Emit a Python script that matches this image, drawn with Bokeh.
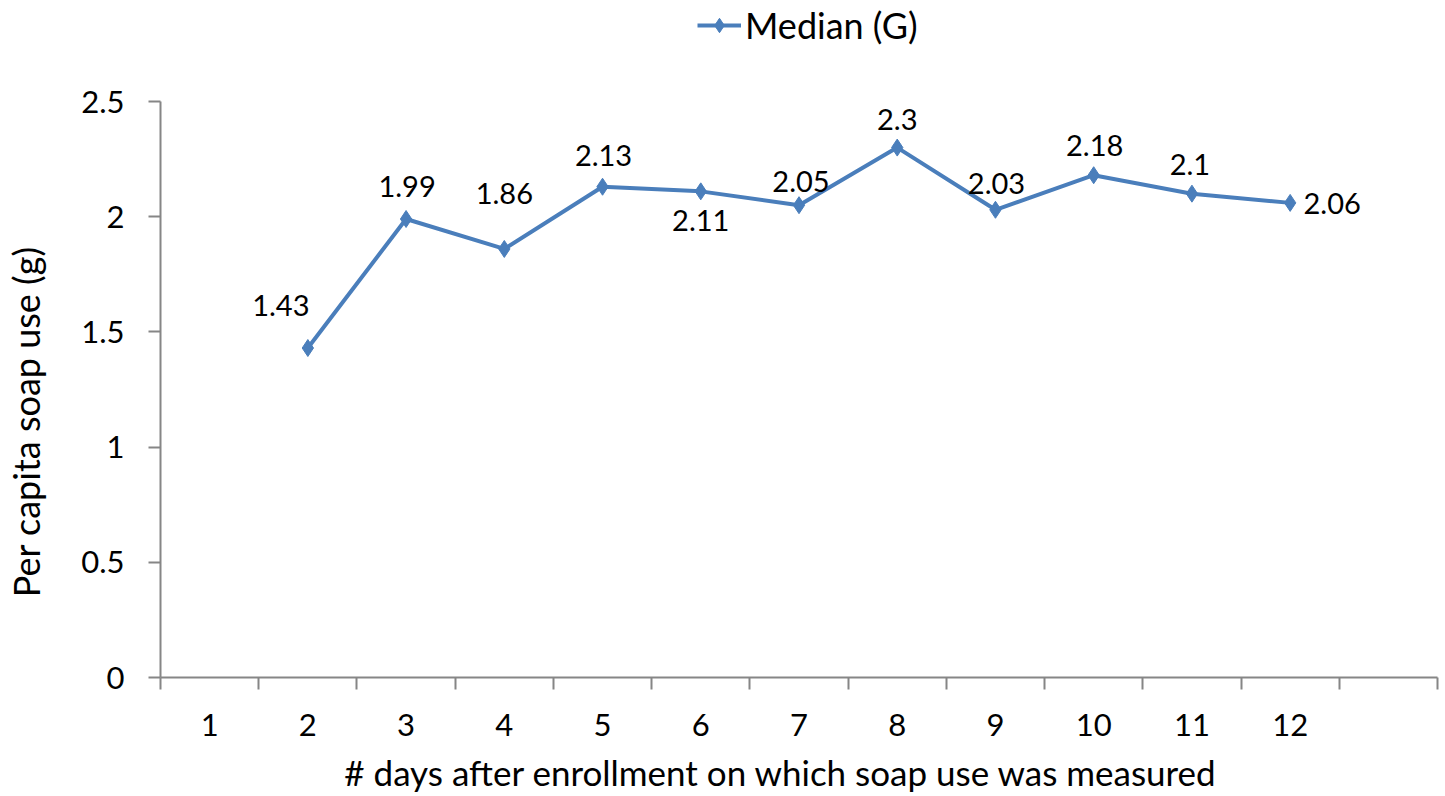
from bokeh.plotting import figure
from bokeh.layouts import column
from bokeh.models import ColumnDataSource, FixedTicker, Legend, LegendItem, Range1d
from bokeh.core.properties import value
from bokeh.embed import file_html
from bokeh.resources import INLINE

# ---- data ----
days = [2, 3, 4, 5, 6, 7, 8, 9, 10, 11, 12]
median_g = [1.43, 1.99, 1.86, 2.13, 2.11, 2.05, 2.30, 2.03, 2.18, 2.10, 2.06]
day_ticks = [1, 2, 3, 4, 5, 6, 7, 8, 9, 10, 11, 12]
day_tick_labels = [str(d) for d in day_ticks]
y_ticks = [0, 0.5, 1, 1.5, 2, 2.5]
y_tick_labels = ["0", "0.5", "1", "1.5", "2", "2.5"]
value_labels = ["1.43", "1.99", "1.86", "2.13", "2.11", "2.05", "2.3", "2.03", "2.18", "2.1", "2.06"]
series_name = "Median (G)"
x_title = "# days after enrollment on which soap use was measured"
y_title = "Per capita soap use (g)"

# label placement (pixel offsets, style only)
label_dx = [-27, 1, 0, 1, 0, 2, 0, 1, 1, -2, 42]
label_dy = [-43, -33, -55, -31, 29, -24, -28, -26, -30, -29, 1]

FONT = "Lato"
BLUE = "#4A7EBB"
AXIS = "#868686"
NBSP = "\u00a0"

src = ColumnDataSource(dict(x=days, y=median_g, lab=value_labels, dx=label_dx, dy=label_dy))

# ---------- legend strip on top ----------
# (its glyphs share the chart's data but lie outside this strip's ranges, so only the legend shows)
lf = figure(width=1440, height=85, output_backend="svg", toolbar_location=None,
            x_range=Range1d(0, 1), y_range=Range1d(0, 1), x_axis_type=None, y_axis_type=None,
            min_border_left=0, min_border_right=0, min_border_top=0, min_border_bottom=0)
lf.outline_line_color = None
lf.xgrid.visible = False
lf.ygrid.visible = False
lg_line = lf.line("x", "y", source=src, line_color=BLUE, line_width=4)
lg_pts = lf.scatter("x", "y", source=src, marker="diamond", size=15, fill_color=BLUE, line_color=BLUE)
legend = Legend(items=[LegendItem(label=series_name, renderers=[lg_line, lg_pts])],
                location=(537, 38), orientation="horizontal", border_line_color=None,
                background_fill_alpha=0, label_text_font=FONT, label_text_font_size="36px",
                label_text_color="black",
                glyph_width=44, glyph_height=36, padding=0, margin=0, label_standoff=4)
lf.add_layout(legend, "center")

# ---------- main chart ----------
p = figure(width=1440, height=711, output_backend="svg", toolbar_location=None,
           x_range=Range1d(0.5, 13.5), y_range=Range1d(0, 2.5),
           min_border_left=160, min_border_right=3, min_border_top=16, min_border_bottom=119)
p.outline_line_color = None
p.xgrid.visible = False
p.ygrid.visible = False

p.line("x", "y", source=src, line_color=BLUE, line_width=4)
p.scatter("x", "y", source=src, marker="diamond", size=17, fill_color=BLUE, line_color=BLUE)
p.text("x", "y", text="lab", source=src, x_offset="dx", y_offset="dy",
       text_align="center", text_baseline="middle", text_font=value(FONT),
       text_font_size="29px", text_color="black")

# x axis
xa = p.xaxis[0]
xa.ticker = FixedTicker(ticks=day_ticks, minor_ticks=[i + 0.5 for i in range(0, 14)])
xa.major_label_overrides = {d: l for d, l in zip(day_ticks, day_tick_labels)}
xa.major_tick_out = 0
xa.major_tick_in = 0
xa.minor_tick_out = 12
xa.minor_tick_in = 0
xa.minor_tick_line_color = AXIS
xa.minor_tick_line_width = 2
xa.axis_line_color = AXIS
xa.axis_line_width = 2
xa.major_label_standoff = 24
xa.major_label_text_font = FONT
xa.major_label_text_font_size = "31px"
xa.major_label_text_color = "black"
# trailing no-break spaces nudge the centred title a little left, as in the original
xa.axis_label = x_title + NBSP * 4
xa.axis_label_text_font = FONT
xa.axis_label_text_font_size = "35px"
xa.axis_label_text_font_style = "normal"
xa.axis_label_text_color = "black"
xa.axis_label_standoff = 12

# y axis
ya = p.yaxis[0]
ya.ticker = FixedTicker(ticks=y_ticks, minor_ticks=[])
ya.major_label_overrides = {t: l for t, l in zip(y_ticks, y_tick_labels)}
ya.major_tick_out = 12
ya.major_tick_in = 0
ya.major_tick_line_color = AXIS
ya.major_tick_line_width = 2
ya.axis_line_color = AXIS
ya.axis_line_width = 2
ya.major_label_standoff = 24
ya.major_label_text_font = FONT
ya.major_label_text_font_size = "31px"
ya.major_label_text_color = "black"
# trailing no-break spaces shift the rotated title slightly down, as in the original
ya.axis_label = y_title + NBSP * 7
ya.axis_label_text_font = FONT
ya.axis_label_text_font_size = "36px"
ya.axis_label_text_font_style = "normal"
ya.axis_label_text_color = "black"
ya.axis_label_standoff = 30

open("out.html", "w").write(file_html(column(lf, p), INLINE))
